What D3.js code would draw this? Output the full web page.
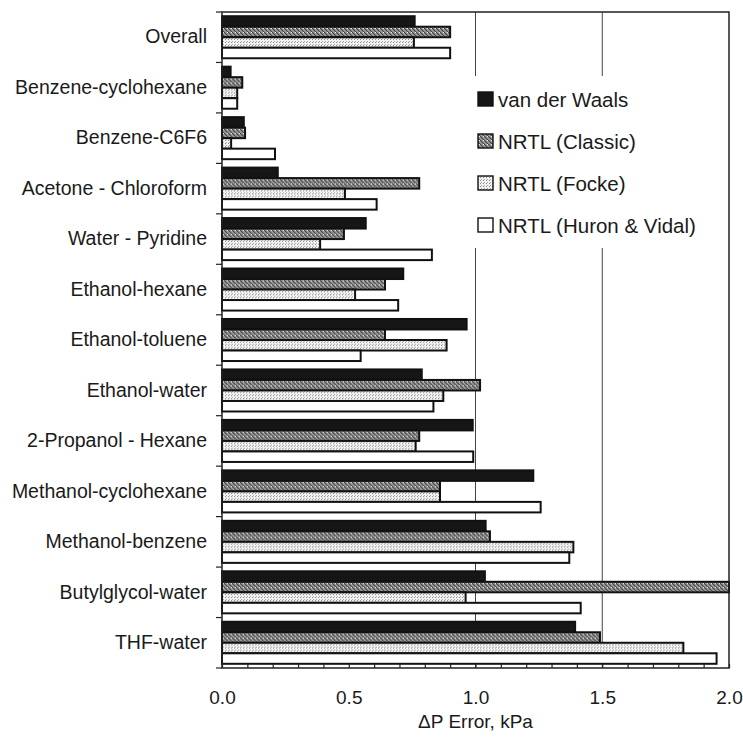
<!DOCTYPE html>
<html>
<head>
<meta charset="utf-8">
<script src="https://cdn.jsdelivr.net/npm/d3@7"></script>
<style>
  body { margin: 0; background: #fff; }
  text { font-family: "Liberation Sans", Arial, sans-serif; fill: #1a1a1a; }
</style>
</head>
<body>
<svg id="chart"></svg>
<script>
// values, kPa
let categories = ["Overall", "Benzene-cyclohexane", "Benzene-C6F6", "Acetone - Chloroform",
  "Water - Pyridine", "Ethanol-hexane", "Ethanol-toluene", "Ethanol-water",
  "2-Propanol - Hexane", "Methanol-cyclohexane", "Methanol-benzene", "Butylglycol-water", "THF-water"]

let seriesNames = ["van der Waals", "NRTL (Classic)", "NRTL (Focke)", "NRTL (Huron & Vidal)"]

let vdwValues     = [0.76, 0.034, 0.086, 0.22, 0.567, 0.715, 0.965, 0.788, 0.989, 1.228, 1.040, 1.037, 1.393]
let classicValues = [0.90, 0.08, 0.091, 0.778, 0.481, 0.643, 0.643, 1.018, 0.778, 0.86, 1.057, 2.0, 1.491]
let fockeValues   = [0.757, 0.06, 0.036, 0.485, 0.387, 0.525, 0.886, 0.873, 0.764, 0.86, 1.386, 0.961, 1.820]
let huronValues   = [0.90, 0.06, 0.209, 0.61, 0.828, 0.695, 0.547, 0.834, 0.991, 1.257, 1.370, 1.415, 1.951]

let xTickValues = [0, 0.5, 1.0, 1.5, 2.0]
let gridValues = [1.0, 1.5]

let width = 743
let height = 744
let margin = { top: 12, right: 14, bottom: 76, left: 222 }

let svg = d3.select("#chart")
  .attr("width", width)
  .attr("height", height)

// fill patterns
let defs = svg.append("defs")
let pClassic = defs.append("pattern")
  .attr("id", "pClassic")
  .attr("width", 4).attr("height", 4)
  .attr("patternUnits", "userSpaceOnUse")
pClassic.append("rect").attr("width", 4).attr("height", 4).attr("fill", "#a0a0a0")
pClassic.append("path")
  .attr("d", "M0,0 L4,4 M-1,3 L1,5 M3,-1 L5,1")
  .attr("stroke", "#444").attr("stroke-width", 1.2)
pClassic.append("rect").attr("x", 3).attr("y", 0).attr("width", 1).attr("height", 1).attr("fill", "#e8e8e8")

let pFocke = defs.append("pattern")
  .attr("id", "pFocke")
  .attr("width", 3).attr("height", 3)
  .attr("patternUnits", "userSpaceOnUse")
pFocke.append("rect").attr("width", 3).attr("height", 3).attr("fill", "#f2f2f2")
pFocke.append("rect").attr("x", 0).attr("y", 0).attr("width", 1).attr("height", 1).attr("fill", "#888")
pFocke.append("rect").attr("x", 1).attr("y", 2).attr("width", 1).attr("height", 1).attr("fill", "#a8a8a8")

let fills = ["#161616", "url(#pClassic)", "url(#pFocke)", "#ffffff"]
let seriesValues = [vdwValues, classicValues, fockeValues, huronValues]

let xScale = d3.scaleLinear()
  .domain([0, 2])
  .range([margin.left, width - margin.right])

let yScale = d3.scaleBand()
  .domain(categories)
  .range([margin.top, height - margin.bottom])
  .padding(0)

let subScale = d3.scaleBand()
  .domain(seriesNames)
  .range([0, yScale.bandwidth()])
  .paddingInner(0)
  .paddingOuter(0.4)

let plotBottom = height - margin.bottom

// gridlines
svg.append("g")
  .selectAll("line")
  .data(gridValues)
  .enter()
  .append("line")
  .attr("x1", d => xScale(d))
  .attr("x2", d => xScale(d))
  .attr("y1", margin.top)
  .attr("y2", plotBottom)
  .attr("stroke", "#444")
  .attr("stroke-width", 1)

// bars
let rows = categories.map((c, i) => ({ cat: c, vals: seriesValues.map(s => s[i]) }))

let groups = svg.append("g")
  .selectAll("g")
  .data(rows)
  .enter()
  .append("g")
  .attr("transform", d => "translate(0," + yScale(d.cat) + ")")

groups.selectAll("rect")
  .data(d => d.vals.map((v, k) => ({ v: v, k: k })))
  .enter()
  .append("rect")
  .attr("x", xScale(0))
  .attr("y", d => subScale(seriesNames[d.k]))
  .attr("width", d => xScale(d.v) - xScale(0))
  .attr("height", subScale.bandwidth())
  .attr("fill", d => fills[d.k])
  .attr("stroke", "#111")
  .attr("stroke-width", 2)

// legend
let legend = svg.append("g")
legend.append("rect")
  .attr("x", 468).attr("y", 76)
  .attr("width", 254).attr("height", 172)
  .attr("fill", "#fff")
let legendY = d3.scalePoint()
  .domain(seriesNames)
  .range([99, 225])
seriesNames.forEach((name, k) => {
  legend.append("rect")
    .attr("x", 478)
    .attr("y", legendY(name) - 7)
    .attr("width", 15)
    .attr("height", 14)
    .attr("fill", fills[k])
    .attr("stroke", "#111")
    .attr("stroke-width", 1.4)
  legend.append("text")
    .attr("x", 498)
    .attr("y", legendY(name) + 7.5)
    .style("font-size", "20.5px")
    .text(name)
})

// frame
svg.append("rect")
  .attr("x", margin.left)
  .attr("y", margin.top)
  .attr("width", width - margin.right - margin.left)
  .attr("height", plotBottom - margin.top)
  .attr("fill", "none")
  .attr("stroke", "#222")
  .attr("stroke-width", 1.5)

// x axis: minor ticks inside every 0.1
let minorAxis = d3.axisBottom(xScale)
  .tickValues(d3.range(0, 21).map(i => i / 10))
  .tickSize(-4)
  .tickFormat("")
svg.append("g")
  .attr("transform", "translate(0," + plotBottom + ")")
  .call(minorAxis)
  .call(g => g.select(".domain").remove())
  .call(g => g.selectAll("line").attr("stroke", "#222").attr("stroke-width", 1.2))

let xAxis = d3.axisBottom(xScale)
  .tickValues(xTickValues)
  .tickSize(0)
  .tickPadding(23)
  .tickFormat(d3.format(".1f"))
svg.append("g")
  .attr("transform", "translate(0," + plotBottom + ")")
  .call(xAxis)
  .call(g => g.select(".domain").remove())
  .call(g => g.selectAll("text").style("font-size", "19px").attr("fill", "#1a1a1a"))

svg.append("text")
  .attr("x", (margin.left + width - margin.right) / 2)
  .attr("y", 728)
  .attr("text-anchor", "middle")
  .style("font-size", "19px")
  .text("\u0394P Error, kPa")

// y axis: labels at band centres, ticks at band edges
let yAxis = d3.axisLeft(yScale)
  .tickSize(0)
  .tickPadding(15)
svg.append("g")
  .attr("transform", "translate(" + margin.left + ",0)")
  .call(yAxis)
  .call(g => g.select(".domain").remove())
  .call(g => g.selectAll("text").style("font-size", "19.5px").attr("fill", "#1a1a1a"))

let edges = categories.map(c => yScale(c)).concat([plotBottom])
svg.append("g")
  .selectAll("line")
  .data(edges)
  .enter()
  .append("line")
  .attr("x1", margin.left - 6)
  .attr("x2", margin.left)
  .attr("y1", d => d)
  .attr("y2", d => d)
  .attr("stroke", "#222")
  .attr("stroke-width", 1.2)
</script>
</body>
</html>
